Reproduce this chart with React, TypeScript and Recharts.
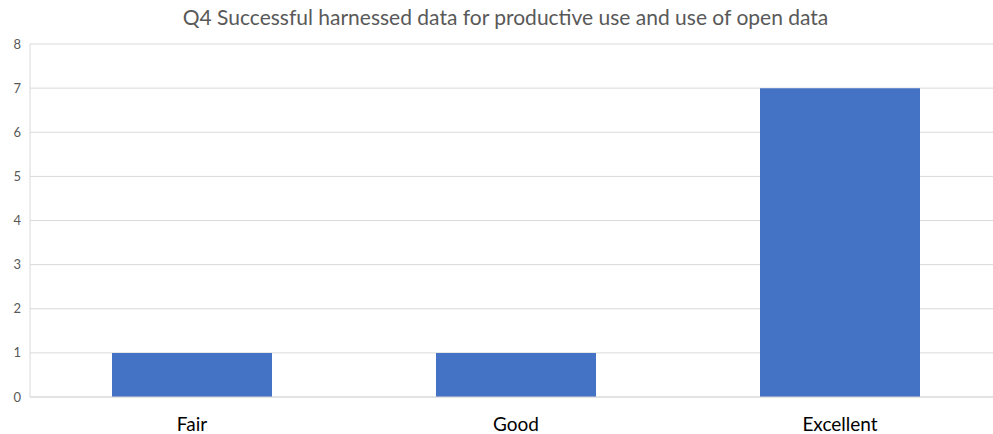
import { BarChart, Bar, XAxis, YAxis, CartesianGrid } from 'recharts';

const categories = ['Fair', 'Good', 'Excellent'];
const counts = [1, 1, 7];
const yTicks = [0, 1, 2, 3, 4, 5, 6, 7, 8];

const data = categories.map((name, i) => ({ name, value: counts[i] }));

const FONT = 'Lato, "Open Sans", "Liberation Sans", sans-serif';

export default function App() {
  return (
    <div style={{ position: 'absolute', left: 0, top: 0, width: 993, height: 434, overflow: 'hidden', background: '#fff' }}>
      <div
        style={{
          position: 'absolute',
          top: 4,
          left: 0,
          width: 1011,
          textAlign: 'center',
          fontFamily: FONT,
          fontSize: 21,
          color: '#595959',
        }}
      >
        Q4 Successful harnessed data for productive use and use of open data
      </div>
      {/* plot runs a little past the right edge, as in the source image */}
      <BarChart
        width={1002}
        height={434}
        data={data}
        margin={{ top: 44, right: 0, left: 0, bottom: 0 }}
        barSize={160}
      >
        <CartesianGrid vertical={false} stroke="#d9d9d9" />
        <XAxis
          dataKey="name"
          height={37}
          tickLine={false}
          axisLine={{ stroke: '#d9d9d9' }}
          tick={{ fontSize: 19, fill: '#000', fontFamily: FONT }}
          tickMargin={15}
        />
        <YAxis
          width={30}
          domain={[0, 8]}
          ticks={yTicks}
          interval={0}
          tickLine={false}
          axisLine={{ stroke: '#d9d9d9' }}
          tick={{ fontSize: 13, fill: '#595959', fontFamily: FONT }}
          tickMargin={3}
        />
        <Bar dataKey="value" fill="#4472C4" isAnimationActive={false} />
      </BarChart>
    </div>
  );
}
